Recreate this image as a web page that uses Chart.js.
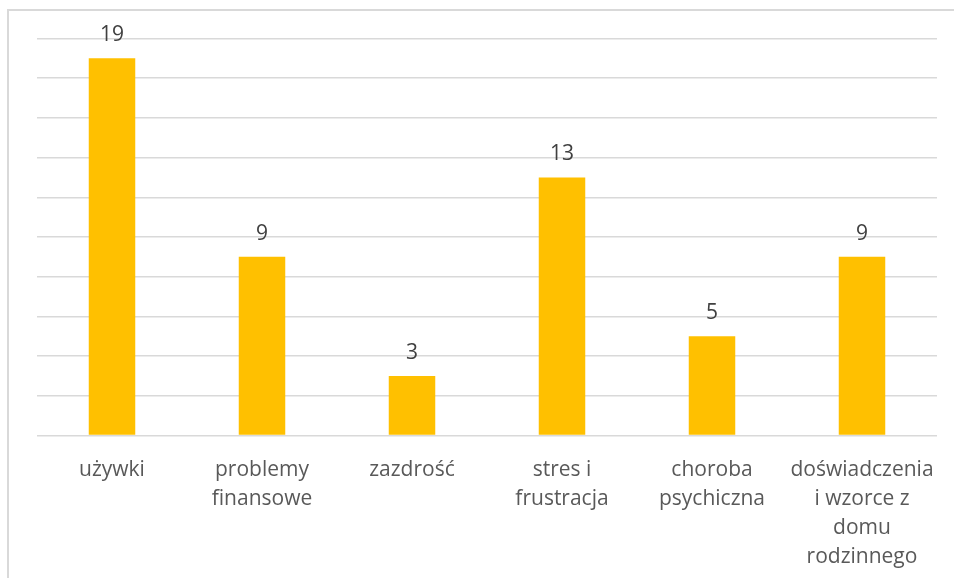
<!DOCTYPE html>
<html lang="pl">
<head>
<meta charset="utf-8">
<title>Przyczyny</title>
<script src="https://cdn.jsdelivr.net/npm/chart.js@4.4.1/dist/chart.umd.min.js"></script>
<style>
    html, body { margin: 0; padding: 0; background: #ffffff; overflow: hidden; }
    #ramka { position: absolute; left: 7px; top: 9px; width: 1000px; height: 1000px; border: 2px solid #d9d9d9; }
    #wykres { position: absolute; left: 0; top: 0; }
</style>
</head>
<body>
<div id="ramka"></div>
<canvas id="wykres" width="954" height="578"></canvas>
<script>
const kategorie = [
    "używki",
    ["problemy", "finansowe"],
    "zazdrość",
    ["stres i", "frustracja"],
    ["choroba", "psychiczna"],
    ["doświadczenia", "i wzorce z", "domu", "rodzinnego"]
];
const wartosci = [19, 9, 3, 13, 5, 9];
const osY = { min: 0, max: 20, krok: 2 };

const etykietyWartosci = {
    id: 'etykietyWartosci',
    afterDatasetsDraw(chart) {
        const ctx = chart.ctx;
        const meta = chart.getDatasetMeta(0);
        ctx.save();
        ctx.font = '21px "Open Sans"';
        ctx.fillStyle = '#404040';
        ctx.textAlign = 'center';
        ctx.textBaseline = 'alphabetic';
        meta.data.forEach((slupek, i) => {
            ctx.fillText(String(wartosci[i]), slupek.x, slupek.y - 17);
        });
        ctx.restore();
    }
};

criarWykres(document.querySelector("#wykres"));

function criarWykres(ctx) {
    return new Chart(ctx, {
        type: 'bar',
        data: {
            labels: kategorie,
            datasets: [{
                data: wartosci,
                backgroundColor: '#FFC000',
                borderWidth: 0,
                categoryPercentage: 1,
                barPercentage: 0.31
            }]
        },
        options: {
            responsive: false,
            animation: false,
            layout: { padding: { left: 37, right: 17, top: 38.5, bottom: 0 } },
            plugins: {
                legend: { display: false },
                tooltip: { enabled: false }
            },
            scales: {
                x: {
                    grid: { display: false },
                    border: { display: false },
                    ticks: {
                        font: { family: '"Open Sans"', size: 21, lineHeight: 1.37 },
                        color: '#595959',
                        padding: 12.5,
                        maxRotation: 0,
                        autoSkip: false
                    },
                    afterFit: (skala) => { skala.height = 578 - 435.5; }
                },
                y: {
                    min: osY.min,
                    max: osY.max,
                    ticks: { display: false, stepSize: osY.krok },
                    grid: { color: '#d9d9d9', lineWidth: 1.5, drawTicks: false },
                    border: { display: false },
                    afterFit: (skala) => { skala.width = 0; }
                }
            }
        },
        plugins: [etykietyWartosci]
    });
}
</script>
</body>
</html>
